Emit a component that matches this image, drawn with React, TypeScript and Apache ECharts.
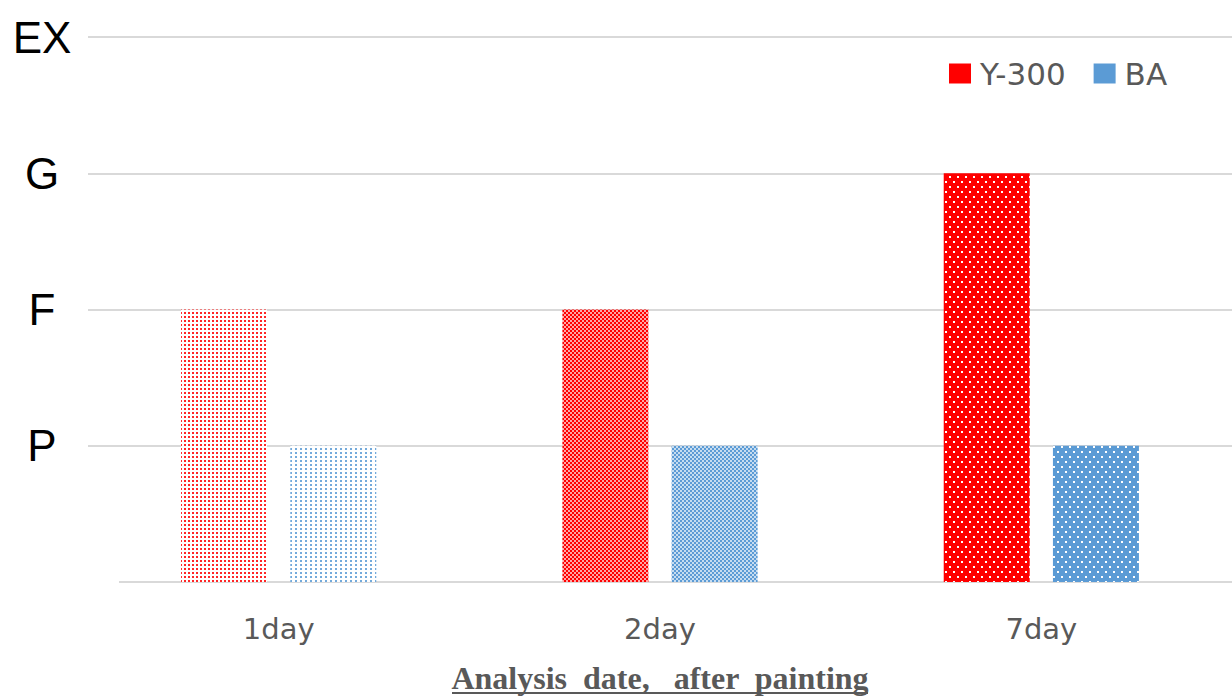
import React, { useEffect, useRef } from "react";
import * as echarts from "echarts";

const categories = ["1day", "2day", "7day"];
const yTickLabels = ["", "P", "F", "G", "EX"];
const seriesNames = ["Y-300", "BA"];
const y300Values = [2, 2, 3];
const baValues = [1, 1, 1];
const y300Color = "#FF0000";
const baColor = "#5B9BD5";
const axisTitle = "Analysis  date,   after  painting";

type Kind = "sparse" | "checker" | "inverse";

function makePattern(color: string, kind: Kind, spacingX: number) {
  const c = document.createElement("canvas");
  if (kind === "sparse") {
    c.width = spacingX;
    c.height = 4;
    const ctx = c.getContext("2d")!;
    ctx.fillStyle = "#ffffff";
    ctx.fillRect(0, 0, c.width, c.height);
    ctx.fillStyle = color;
    ctx.globalAlpha = 0.85;
    ctx.fillRect(0, 0, 2, 2);
  } else if (kind === "checker") {
    c.width = 4;
    c.height = 4;
    const ctx = c.getContext("2d")!;
    ctx.fillStyle = "#ffffff";
    ctx.fillRect(0, 0, 4, 4);
    ctx.fillStyle = color;
    ctx.fillRect(0, 0, 2, 2);
    ctx.fillRect(2, 2, 2, 2);
    ctx.globalAlpha = 0.35;
    ctx.fillRect(2, 0, 2, 2);
    ctx.fillRect(0, 2, 2, 2);
  } else {
    c.width = 8;
    c.height = 10;
    const ctx = c.getContext("2d")!;
    ctx.fillStyle = color;
    ctx.fillRect(0, 0, 8, 10);
    ctx.fillStyle = "#ffffff";
    ctx.fillRect(1, 1, 2, 2);
    ctx.fillRect(5, 6, 2, 2);
  }
  return { image: c as any, repeat: "repeat" as const };
}

export default function App() {
  const ref = useRef<HTMLDivElement>(null);
  useEffect(() => {
    document.body.style.margin = "0";
    const chart = echarts.init(ref.current!, undefined, { renderer: "svg" });
    const kinds: Kind[] = ["sparse", "checker", "inverse"];
    const option: any = {
      animation: false,
      backgroundColor: "#ffffff",
      grid: { left: 88, right: 0, top: 37, bottom: 116, containLabel: false },
      legend: {
        left: 944,
        top: 53,
        itemWidth: 22,
        itemHeight: 20,
        itemGap: 28,
        icon: "rect",
        textStyle: {
          fontFamily: "DejaVu Sans",
          fontSize: 31,
          color: "#595959",
          padding: [0, 0, 0, 4],
        },
        data: seriesNames,
      },
      xAxis: {
        type: "category",
        data: categories,
        axisLine: { show: false },
        axisTick: { show: false },
        axisLabel: {
          margin: 32,
          fontFamily: "DejaVu Sans",
          fontSize: 29,
          color: "#595959",
        },
      },
      yAxis: {
        type: "value",
        min: 0,
        max: 4,
        interval: 1,
        axisLine: { show: false },
        axisTick: { show: false },
        axisLabel: {
          margin: 46,
          align: "center",
          fontFamily: "Liberation Sans",
          fontSize: 44,
          color: "#000000",
          formatter: (v: number) => yTickLabels[Math.round(v)] ?? "",
        },
        splitLine: {
          showMinLine: false,
          lineStyle: { color: "#D9D9D9", width: 2 },
        },
      },
      graphic: [
        {
          type: "line",
          shape: { x1: 119, y1: 582, x2: 1232, y2: 582 },
          style: { stroke: "#D9D9D9", lineWidth: 2 },
          z: 1,
        },
        {
          type: "text",
          x: 660,
          y: 678,
          style: {
            text: axisTitle,
            fontFamily: "Liberation Serif",
            fontWeight: "bold",
            fontSize: 32,
            fill: "#595959",
            align: "center",
            verticalAlign: "middle",
          },
        },
        {
          type: "line",
          shape: { x1: 452, y1: 693, x2: 868, y2: 693 },
          style: { stroke: "#595959", lineWidth: 2 },
        },
      ],
      series: [
        {
          name: seriesNames[0],
          type: "bar",
          barWidth: 86,
          barGap: "27%",
          itemStyle: { color: y300Color },
          data: y300Values.map((v, i) => ({
            value: v,
            itemStyle: { color: makePattern(y300Color, kinds[i], 4) },
          })),
        },
        {
          name: seriesNames[1],
          type: "bar",
          barWidth: 86,
          itemStyle: { color: baColor },
          data: baValues.map((v, i) => ({
            value: v,
            itemStyle: { color: makePattern(baColor, kinds[i], 5) },
          })),
        },
      ],
    };
    chart.setOption(option);
    return () => chart.dispose();
  }, []);
  return <div ref={ref} style={{ width: 1232, height: 698 }} />;
}
